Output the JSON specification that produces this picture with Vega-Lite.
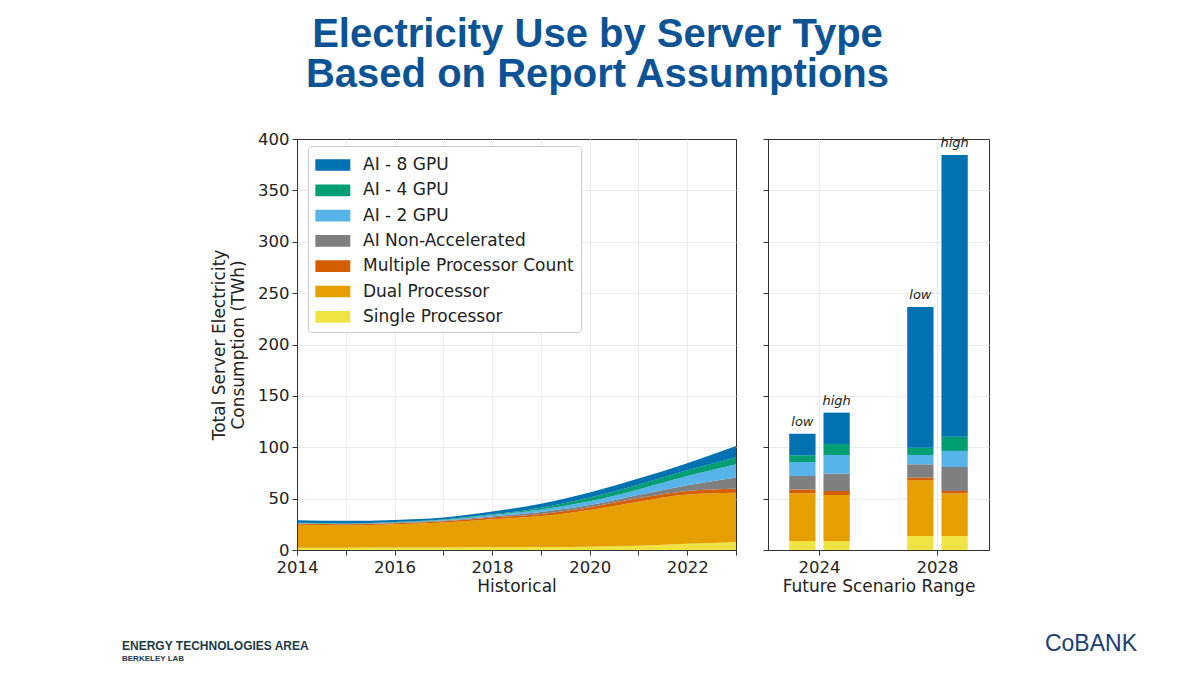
{
  "$schema": "https://vega.github.io/schema/vega-lite/v6.json",
  "padding": {"left": 121, "top": 14, "right": 5, "bottom": 5},
  "background": "white",
  "title": {
    "text": ["Electricity Use by Server Type", "Based on Report Assumptions"],
    "font": "Liberation Sans",
    "fontSize": 40,
    "fontWeight": "bold",
    "lineHeight": 40,
    "color": "#0b5394",
    "anchor": "middle",
    "offset": 36,
    "dx": -32
  },
  "config": {
    "font": "DejaVu Sans",
    "view": {"stroke": "#333333", "strokeWidth": 1},
    "axis": {
      "labelFont": "DejaVu Sans",
      "labelFontSize": 16.5,
      "labelColor": "#222222",
      "titleFont": "DejaVu Sans",
      "titleFontSize": 17,
      "titleFontWeight": "normal",
      "titleColor": "#222222",
      "domainColor": "#333333",
      "domainWidth": 1,
      "tickColor": "#333333",
      "tickSize": 5,
      "gridColor": "#ebebeb",
      "gridWidth": 1
    }
  },
  "datasets": {
    "hist": [
      {"year": 2014, "type": "Single Processor", "twh": 2.3},
      {"year": 2014, "type": "Dual Processor", "twh": 22.2},
      {"year": 2014, "type": "Multiple Processor Count", "twh": 1.0},
      {"year": 2014, "type": "AI Non-Accelerated", "twh": 0.3},
      {"year": 2014, "type": "AI - 2 GPU", "twh": 0.3},
      {"year": 2014, "type": "AI - 4 GPU", "twh": 0.3},
      {"year": 2014, "type": "AI - 8 GPU", "twh": 2.6},
      {"year": 2015, "type": "Single Processor", "twh": 2.3},
      {"year": 2015, "type": "Dual Processor", "twh": 21.7},
      {"year": 2015, "type": "Multiple Processor Count", "twh": 1.0},
      {"year": 2015, "type": "AI Non-Accelerated", "twh": 0.3},
      {"year": 2015, "type": "AI - 2 GPU", "twh": 0.3},
      {"year": 2015, "type": "AI - 4 GPU", "twh": 0.3},
      {"year": 2015, "type": "AI - 8 GPU", "twh": 2.5},
      {"year": 2016, "type": "Single Processor", "twh": 2.4},
      {"year": 2016, "type": "Dual Processor", "twh": 22.6},
      {"year": 2016, "type": "Multiple Processor Count", "twh": 1.0},
      {"year": 2016, "type": "AI Non-Accelerated", "twh": 0.4},
      {"year": 2016, "type": "AI - 2 GPU", "twh": 0.4},
      {"year": 2016, "type": "AI - 4 GPU", "twh": 0.4},
      {"year": 2016, "type": "AI - 8 GPU", "twh": 2.1},
      {"year": 2017, "type": "Single Processor", "twh": 2.5},
      {"year": 2017, "type": "Dual Processor", "twh": 24.3},
      {"year": 2017, "type": "Multiple Processor Count", "twh": 1.2},
      {"year": 2017, "type": "AI Non-Accelerated", "twh": 0.6},
      {"year": 2017, "type": "AI - 2 GPU", "twh": 0.6},
      {"year": 2017, "type": "AI - 4 GPU", "twh": 0.6},
      {"year": 2017, "type": "AI - 8 GPU", "twh": 1.8},
      {"year": 2018, "type": "Single Processor", "twh": 2.6},
      {"year": 2018, "type": "Dual Processor", "twh": 27.4},
      {"year": 2018, "type": "Multiple Processor Count", "twh": 1.7},
      {"year": 2018, "type": "AI Non-Accelerated", "twh": 1.1},
      {"year": 2018, "type": "AI - 2 GPU", "twh": 1.2},
      {"year": 2018, "type": "AI - 4 GPU", "twh": 0.8},
      {"year": 2018, "type": "AI - 8 GPU", "twh": 2.7},
      {"year": 2019, "type": "Single Processor", "twh": 2.8},
      {"year": 2019, "type": "Dual Processor", "twh": 30.2},
      {"year": 2019, "type": "Multiple Processor Count", "twh": 2.0},
      {"year": 2019, "type": "AI Non-Accelerated", "twh": 2.0},
      {"year": 2019, "type": "AI - 2 GPU", "twh": 2.5},
      {"year": 2019, "type": "AI - 4 GPU", "twh": 1.5},
      {"year": 2019, "type": "AI - 8 GPU", "twh": 4.0},
      {"year": 2020, "type": "Single Processor", "twh": 3.2},
      {"year": 2020, "type": "Dual Processor", "twh": 35.8},
      {"year": 2020, "type": "Multiple Processor Count", "twh": 2.6},
      {"year": 2020, "type": "AI Non-Accelerated", "twh": 2.2},
      {"year": 2020, "type": "AI - 2 GPU", "twh": 3.7},
      {"year": 2020, "type": "AI - 4 GPU", "twh": 3.5},
      {"year": 2020, "type": "AI - 8 GPU", "twh": 5.0},
      {"year": 2021, "type": "Single Processor", "twh": 4.2},
      {"year": 2021, "type": "Dual Processor", "twh": 42.8},
      {"year": 2021, "type": "Multiple Processor Count", "twh": 3.5},
      {"year": 2021, "type": "AI Non-Accelerated", "twh": 3.0},
      {"year": 2021, "type": "AI - 2 GPU", "twh": 5.5},
      {"year": 2021, "type": "AI - 4 GPU", "twh": 4.5},
      {"year": 2021, "type": "AI - 8 GPU", "twh": 6.0},
      {"year": 2022, "type": "Single Processor", "twh": 6.0},
      {"year": 2022, "type": "Dual Processor", "twh": 48.0},
      {"year": 2022, "type": "Multiple Processor Count", "twh": 3.5},
      {"year": 2022, "type": "AI Non-Accelerated", "twh": 5.5},
      {"year": 2022, "type": "AI - 2 GPU", "twh": 9.0},
      {"year": 2022, "type": "AI - 4 GPU", "twh": 5.5},
      {"year": 2022, "type": "AI - 8 GPU", "twh": 7.0},
      {"year": 2023, "type": "Single Processor", "twh": 7.8},
      {"year": 2023, "type": "Dual Processor", "twh": 48.0},
      {"year": 2023, "type": "Multiple Processor Count", "twh": 3.9},
      {"year": 2023, "type": "AI Non-Accelerated", "twh": 10.8},
      {"year": 2023, "type": "AI - 2 GPU", "twh": 12.9},
      {"year": 2023, "type": "AI - 4 GPU", "twh": 6.6},
      {"year": 2023, "type": "AI - 8 GPU", "twh": 11.3}
    ],
    "future": [
      {"year": "2024", "scenario": "low", "type": "Single Processor", "twh": 8.8},
      {"year": "2024", "scenario": "low", "type": "Dual Processor", "twh": 46.4},
      {"year": "2024", "scenario": "low", "type": "Multiple Processor Count", "twh": 3.8},
      {"year": "2024", "scenario": "low", "type": "AI Non-Accelerated", "twh": 13.0},
      {"year": "2024", "scenario": "low", "type": "AI - 2 GPU", "twh": 13.7},
      {"year": "2024", "scenario": "low", "type": "AI - 4 GPU", "twh": 6.5},
      {"year": "2024", "scenario": "low", "type": "AI - 8 GPU", "twh": 21.0},
      {"year": "2024", "scenario": "high", "type": "Single Processor", "twh": 8.8},
      {"year": "2024", "scenario": "high", "type": "Dual Processor", "twh": 44.7},
      {"year": "2024", "scenario": "high", "type": "Multiple Processor Count", "twh": 3.9},
      {"year": "2024", "scenario": "high", "type": "AI Non-Accelerated", "twh": 16.9},
      {"year": "2024", "scenario": "high", "type": "AI - 2 GPU", "twh": 18.2},
      {"year": "2024", "scenario": "high", "type": "AI - 4 GPU", "twh": 10.7},
      {"year": "2024", "scenario": "high", "type": "AI - 8 GPU", "twh": 30.5},
      {"year": "2028", "scenario": "low", "type": "Single Processor", "twh": 13.6},
      {"year": "2028", "scenario": "low", "type": "Dual Processor", "twh": 54.2},
      {"year": "2028", "scenario": "low", "type": "Multiple Processor Count", "twh": 2.6},
      {"year": "2028", "scenario": "low", "type": "AI Non-Accelerated", "twh": 13.0},
      {"year": "2028", "scenario": "low", "type": "AI - 2 GPU", "twh": 9.1},
      {"year": "2028", "scenario": "low", "type": "AI - 4 GPU", "twh": 7.1},
      {"year": "2028", "scenario": "low", "type": "AI - 8 GPU", "twh": 136.9},
      {"year": "2028", "scenario": "high", "type": "Single Processor", "twh": 13.6},
      {"year": "2028", "scenario": "high", "type": "Dual Processor", "twh": 41.6},
      {"year": "2028", "scenario": "high", "type": "Multiple Processor Count", "twh": 2.2},
      {"year": "2028", "scenario": "high", "type": "AI Non-Accelerated", "twh": 23.4},
      {"year": "2028", "scenario": "high", "type": "AI - 2 GPU", "twh": 15.6},
      {"year": "2028", "scenario": "high", "type": "AI - 4 GPU", "twh": 13.9},
      {"year": "2028", "scenario": "high", "type": "AI - 8 GPU", "twh": 274.2}
    ]
  },
  "resolve": {"scale": {"color": "independent", "y": "independent"}, "legend": {"color": "independent"}},
  "spacing": 22,
  "hconcat": [
    {
      "width": 439,
      "height": 411,
      "title": {
        "text": "ENERGY TECHNOLOGIES AREA",
        "subtitle": "BERKELEY LAB",
        "orient": "bottom",
        "anchor": "start",
        "frame": "group",
        "font": "Liberation Sans",
        "fontSize": 12,
        "fontWeight": "bold",
        "color": "#1e3a48",
        "subtitleFont": "Liberation Sans",
        "subtitleFontSize": 8,
        "subtitleFontWeight": "bold",
        "subtitleColor": "#1e3a48",
        "subtitlePadding": 2,
        "offset": 46,
        "dx": -175
      },
      "data": {"name": "hist"},
      "resolve": {"axis": {"x": "independent", "y": "independent"}},
      "layer": [
        {
          "transform": [
            {"calculate": "indexof(['Single Processor','Dual Processor','Multiple Processor Count','AI Non-Accelerated','AI - 2 GPU','AI - 4 GPU','AI - 8 GPU'], datum.type)", "as": "rank"}
          ],
          "mark": {"type": "area", "interpolate": "monotone"},
          "encoding": {
            "x": {
              "field": "year",
              "type": "quantitative",
              "scale": {"domain": [2014, 2023], "nice": false, "zero": false},
              "axis": {
                "orient": "bottom",
                "title": "Historical",
                "values": [2014, 2015, 2016, 2017, 2018, 2019, 2020, 2021, 2022, 2023],
                "labelExpr": "datum.value % 2 == 0 ? datum.value : ''",
                "format": "d",
                "grid": false,
                "domain": true,
                "zindex": 1,
                "labelPadding": 4,
                "titlePadding": 3,
                "labelFlush": false,
                "labelOverlap": false
              }
            },
            "y": {
              "field": "twh",
              "type": "quantitative",
              "stack": "zero",
              "scale": {"domain": [0, 400], "nice": false},
              "axis": {
                "orient": "left",
                "title": ["Total Server Electricity", "Consumption (TWh)"],
                "values": [0, 50, 100, 150, 200, 250, 300, 350, 400],
                "grid": false,
                "domain": true,
                "zindex": 1,
                "titlePadding": 10,
                "labelPadding": 3
              }
            },
            "color": {
              "field": "type",
              "type": "nominal",
              "scale": {
                "domain": ["AI - 8 GPU", "AI - 4 GPU", "AI - 2 GPU", "AI Non-Accelerated", "Multiple Processor Count", "Dual Processor", "Single Processor"],
                "range": ["#0072B2", "#009E73", "#56B4E9", "#7f7f7f", "#D55E00", "#E69F00", "#F0E442"]
              },
              "legend": {
                "title": null,
                "orient": "none",
                "legendX": 11,
                "legendY": 7,
                "symbolType": "M-1,-0.5H2V0.5H-1Z",
                "symbolSize": 543,
                "symbolStrokeWidth": 0,
                "symbolOpacity": 1,
                "labelFont": "DejaVu Sans",
                "labelFontSize": 17,
                "labelColor": "#222222",
                "labelOffset": 24,
                "labelLimit": 300,
                "rowPadding": 5.3,
                "padding": 7,
                "strokeColor": "#cccccc",
                "fillColor": "white",
                "cornerRadius": 3
              }
            },
            "order": {"field": "rank", "type": "quantitative"}
          }
        },
        {
          "mark": {"type": "point", "opacity": 0},
          "encoding": {
            "x": {
              "field": "year",
              "type": "quantitative",
              "axis": {
                "orient": "top",
                "title": null,
                "values": [2015, 2016, 2017, 2018, 2019, 2020, 2021, 2022],
                "labels": false,
                "ticks": false,
                "domain": false,
                "grid": true,
                "zindex": 0
              }
            },
            "y": {
              "field": "twh",
              "type": "quantitative",
              "axis": {
                "orient": "right",
                "title": null,
                "values": [50, 100, 150, 200, 250, 300, 350],
                "labels": false,
                "ticks": false,
                "domain": false,
                "grid": true,
                "zindex": 0
              }
            }
          }
        }
      ]
    },
    {
      "width": 221,
      "height": 411,
      "title": {
        "text": "CoBANK",
        "orient": "bottom",
        "anchor": "end",
        "frame": "group",
        "font": "Liberation Sans",
        "fontSize": 23,
        "fontWeight": "normal",
        "color": "#1b3e6f",
        "offset": 38,
        "dx": 148
      },
      "data": {"name": "future"},
      "resolve": {"axis": {"y": "independent"}},
      "layer": [
        {
          "transform": [
            {"calculate": "indexof(['Single Processor','Dual Processor','Multiple Processor Count','AI Non-Accelerated','AI - 2 GPU','AI - 4 GPU','AI - 8 GPU'], datum.type)", "as": "rank"}
          ],
          "mark": {"type": "bar"},
          "encoding": {
            "x": {
              "field": "year",
              "type": "nominal",
              "scale": {"domain": ["2024", "2028"], "paddingInner": 0.487, "paddingOuter": 0.18},
              "axis": {"title": "Future Scenario Range", "labelAngle": 0, "grid": true, "domain": true, "zindex": 1, "bandPosition": 0.5, "labelPadding": 4, "titlePadding": 3}
            },
            "xOffset": {
              "field": "scenario",
              "type": "nominal",
              "scale": {"domain": ["low", "high"], "paddingInner": 0.232, "paddingOuter": 0}
            },
            "y": {
              "field": "twh",
              "type": "quantitative",
              "stack": "zero",
              "scale": {"domain": [0, 400], "nice": false},
              "axis": {"orient": "left", "title": null, "labels": false, "grid": false, "domain": true, "zindex": 1, "values": [0, 50, 100, 150, 200, 250, 300, 350, 400]}
            },
            "color": {
              "field": "type",
              "type": "nominal",
              "scale": {
                "domain": ["AI - 8 GPU", "AI - 4 GPU", "AI - 2 GPU", "AI Non-Accelerated", "Multiple Processor Count", "Dual Processor", "Single Processor"],
                "range": ["#0072B2", "#009E73", "#56B4E9", "#7f7f7f", "#D55E00", "#E69F00", "#F0E442"]
              },
              "legend": null
            },
            "order": {"field": "rank", "type": "quantitative"}
          }
        },
        {
          "transform": [
            {"aggregate": [{"op": "sum", "field": "twh", "as": "total"}], "groupby": ["year", "scenario"]}
          ],
          "mark": {"type": "text", "baseline": "bottom", "dy": -5, "fontStyle": "italic", "fontSize": 13, "font": "DejaVu Sans", "color": "#222222"},
          "encoding": {
            "x": {"field": "year", "type": "nominal"},
            "xOffset": {"field": "scenario", "type": "nominal"},
            "y": {
              "field": "total",
              "type": "quantitative",
              "scale": {"domain": [0, 400], "nice": false},
              "axis": {"orient": "right", "title": null, "labels": false, "ticks": false, "domain": false, "grid": true, "zindex": 0, "values": [50, 100, 150, 200, 250, 300, 350]}
            },
            "text": {"field": "scenario", "type": "nominal"}
          }
        }
      ]
    }
  ]
}
